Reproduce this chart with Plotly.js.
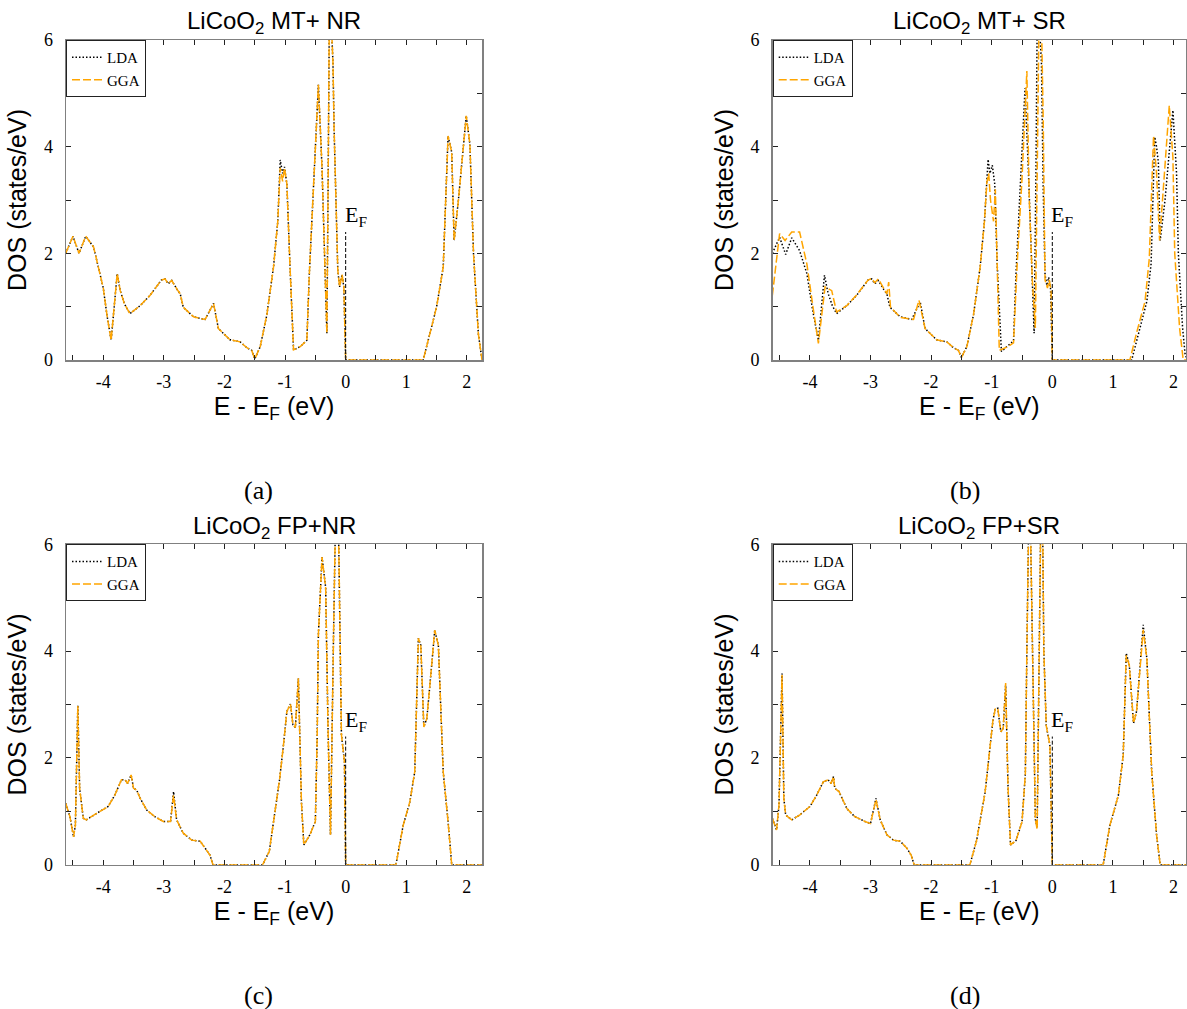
<!DOCTYPE html>
<html><head><meta charset="utf-8">
<script src="https://cdn.plot.ly/plotly-3.0.1.min.js"></script>
<style>html,body{margin:0;padding:0;background:#fff}</style>
</head><body><div id="chart" style="width:1187px;height:1009px"></div>
<script>
// ---------- tick labels & texts ----------
const xTickVals = [-4, -3, -2, -1, 0, 1, 2];
const xTickText = ['-4', '-3', '-2', '-1', '0', '1', '2'];
const yTickVals = [0, 2, 4, 6];
const yTickText = ['0', '2', '4', '6'];
const panelTitles = ['LiCoO<sub>2</sub> MT+ NR', 'LiCoO<sub>2</sub> MT+ SR', 'LiCoO<sub>2</sub> FP+NR', 'LiCoO<sub>2</sub> FP+SR'];
const captions = ['(a)', '(b)', '(c)', '(d)'];
const seriesNames = ['LDA', 'GGA'];
const efX = [0, 0];
const efY = [0, 2.4];

// ---------- panel (a) MT+NR ----------
const eA = [-4.62,-4.50,-4.40,-4.29,-4.16,-4.08,-4.00,-3.94,-3.87,-3.77,-3.72,-3.65,-3.56,-3.39,-3.23,-3.04,-2.98,-2.93,-2.87,-2.78,-2.73,-2.68,-2.51,-2.32,-2.18,-2.10,-1.91,-1.74,-1.63,-1.55,-1.50,-1.41,-1.30,-1.19,-1.12,-1.08,-1.04,-1.01,-0.97,-0.92,-0.86,-0.75,-0.64,-0.60,-0.53,-0.45,-0.39,-0.34,-0.31,-0.29,-0.27,-0.24,-0.21,-0.19,-0.13,-0.10,-0.06,-0.03,0.00,1.28,1.39,1.50,1.61,1.69,1.72,1.75,1.79,1.86,1.99,2.05,2.11,2.19,2.25];
const ldaA = [2.00,2.32,2.00,2.32,2.12,1.75,1.35,0.85,0.37,1.62,1.30,1.05,0.87,1.02,1.21,1.50,1.52,1.43,1.49,1.32,1.24,0.99,0.81,0.76,1.06,0.59,0.38,0.34,0.23,0.18,0.02,0.25,0.85,1.75,2.60,3.75,3.50,3.62,3.30,1.80,0.19,0.25,0.37,1.60,3.30,5.16,3.60,1.80,0.50,3.20,6.30,6.40,5.60,4.30,1.69,1.37,1.60,1.37,0.00,0.00,0.49,0.99,1.74,4.20,4.05,3.90,2.24,2.99,4.58,4.05,1.99,0.49,0.00];
const ggaA = [2.00,2.32,2.00,2.32,2.12,1.75,1.35,0.85,0.37,1.62,1.30,1.05,0.87,1.02,1.21,1.50,1.52,1.43,1.49,1.32,1.24,0.99,0.81,0.76,1.06,0.59,0.38,0.34,0.23,0.18,0.02,0.25,0.85,1.75,2.60,3.60,3.35,3.60,3.30,1.80,0.19,0.25,0.37,1.60,3.30,5.16,3.60,1.80,0.50,3.20,6.30,6.40,5.60,4.30,1.69,1.37,1.60,1.37,0.00,0.00,0.49,0.99,1.74,4.20,4.05,3.90,2.24,2.99,4.58,4.05,1.99,0.49,0.00];

// ---------- panel (b) MT+SR ----------
const eLdaB = [-4.62,-4.50,-4.40,-4.30,-4.17,-4.05,-3.95,-3.86,-3.76,-3.70,-3.63,-3.56,-3.39,-3.23,-3.04,-2.98,-2.93,-2.87,-2.78,-2.73,-2.68,-2.51,-2.32,-2.18,-2.10,-1.91,-1.74,-1.63,-1.55,-1.50,-1.41,-1.30,-1.19,-1.12,-1.06,-1.03,-0.99,-0.95,-0.91,-0.84,-0.75,-0.64,-0.60,-0.53,-0.45,-0.39,-0.34,-0.30,-0.27,-0.25,-0.22,-0.18,-0.15,-0.12,-0.09,-0.06,-0.03,0.00,1.31,1.42,1.56,1.63,1.69,1.72,1.75,1.78,1.86,1.99,2.05,2.08,2.15,2.19,2.21];
const ldaB = [2.00,2.30,1.98,2.29,2.05,1.62,0.90,0.37,1.59,1.25,1.02,0.87,1.02,1.21,1.50,1.52,1.43,1.49,1.32,1.24,0.99,0.81,0.76,1.09,0.59,0.38,0.34,0.23,0.18,0.05,0.25,0.85,1.75,2.60,3.76,3.50,3.65,3.30,1.80,0.16,0.25,0.36,1.60,3.20,5.10,3.40,1.60,0.50,3.50,6.30,6.40,5.60,3.20,1.60,1.40,1.55,1.35,0.00,0.00,0.50,1.10,1.80,4.18,4.00,3.70,2.24,3.00,4.68,3.50,2.00,0.60,0.12,0.05];
const eGgaB = [-4.62,-4.50,-4.41,-4.30,-4.17,-4.05,-3.95,-3.86,-3.75,-3.64,-3.56,-3.39,-3.23,-3.04,-2.98,-2.93,-2.87,-2.78,-2.73,-2.70,-2.67,-2.51,-2.29,-2.20,-2.10,-1.91,-1.74,-1.63,-1.55,-1.50,-1.41,-1.30,-1.19,-1.12,-1.08,-1.05,-1.02,-0.97,-0.94,-0.875,-0.75,-0.64,-0.58,-0.50,-0.42,-0.38,-0.33,-0.28,-0.25,-0.22,-0.18,-0.15,-0.12,-0.08,-0.05,-0.02,0.00,1.28,1.40,1.53,1.60,1.67,1.72,1.77,1.85,1.93,1.99,2.02,2.10,2.16,2.21];
const ggaB = [1.21,2.37,2.24,2.40,2.40,1.80,1.00,0.31,1.37,1.30,0.90,1.02,1.22,1.50,1.53,1.45,1.52,1.35,1.24,1.46,0.99,0.80,0.76,1.12,0.59,0.38,0.34,0.23,0.18,0.05,0.25,0.85,1.75,2.60,3.33,3.50,3.00,2.60,3.20,0.18,0.24,0.32,1.80,3.40,5.42,3.00,1.50,0.60,3.50,6.30,6.40,4.50,1.50,1.35,1.50,1.30,0.00,0.00,0.55,1.10,1.90,4.20,3.50,2.24,3.50,4.77,3.80,2.00,0.60,0.00,0.00];

// ---------- panel (c) FP+NR ----------
const eC = [-4.62,-4.55,-4.49,-4.46,-4.42,-4.39,-4.33,-4.28,-4.11,-3.92,-3.81,-3.70,-3.64,-3.60,-3.54,-3.50,-3.45,-3.39,-3.28,-3.15,-3.01,-2.89,-2.84,-2.79,-2.68,-2.54,-2.40,-2.29,-2.24,-2.19,-1.37,-1.26,-1.18,-1.09,-1.03,-0.97,-0.91,-0.87,-0.83,-0.78,-0.73,-0.69,-0.59,-0.50,-0.47,-0.45,-0.39,-0.33,-0.29,-0.25,-0.20,-0.17,-0.12,-0.07,-0.02,0.00,0.83,0.95,1.06,1.14,1.20,1.24,1.29,1.34,1.42,1.47,1.53,1.61,1.69,1.75,2.25];
const ldaC = [1.15,0.90,0.52,0.74,2.99,1.43,0.87,0.84,0.96,1.09,1.30,1.59,1.59,1.52,1.68,1.43,1.40,1.24,1.02,0.90,0.81,0.81,1.37,0.84,0.59,0.46,0.44,0.27,0.18,0.00,0.00,0.25,0.90,1.60,2.20,2.87,3.01,2.62,2.57,3.49,1.18,0.37,0.56,0.81,2.40,4.31,5.76,5.19,2.50,0.56,4.30,6.30,6.50,2.44,1.93,0.00,0.00,0.74,1.18,1.74,4.24,4.11,2.58,2.74,3.74,4.39,4.11,1.74,0.81,0.00,0.00];
const ggaC = [1.15,0.90,0.52,0.74,2.97,1.43,0.87,0.84,0.96,1.09,1.30,1.59,1.59,1.52,1.68,1.43,1.40,1.24,1.02,0.90,0.81,0.81,1.30,0.84,0.59,0.46,0.44,0.27,0.18,0.00,0.00,0.25,0.90,1.60,2.20,2.87,3.01,2.62,2.57,3.49,1.18,0.37,0.56,0.81,2.40,4.31,5.76,5.19,2.50,0.56,4.30,6.30,6.50,2.44,1.93,0.00,0.00,0.74,1.18,1.74,4.24,4.11,2.58,2.74,3.74,4.39,4.11,1.74,0.81,0.00,0.00];

// ---------- panel (d) FP+SR ----------
const eD = [-4.62,-4.55,-4.51,-4.46,-4.43,-4.40,-4.30,-4.17,-4.00,-3.89,-3.78,-3.70,-3.65,-3.61,-3.59,-3.52,-3.39,-3.26,-3.09,-3.00,-2.91,-2.84,-2.73,-2.62,-2.51,-2.40,-2.33,-2.28,-1.36,-1.25,-1.11,-1.04,-0.98,-0.94,-0.90,-0.85,-0.81,-0.77,-0.73,-0.69,-0.60,-0.50,-0.445,-0.42,-0.39,-0.36,-0.31,-0.28,-0.25,-0.22,-0.19,-0.16,-0.14,-0.10,-0.04,0.00,0.84,0.95,1.09,1.17,1.22,1.27,1.34,1.39,1.45,1.50,1.56,1.64,1.72,1.78,2.21];
const ldaD = [0.87,0.65,1.12,3.58,1.24,0.93,0.84,0.93,1.09,1.30,1.55,1.59,1.52,1.65,1.43,1.37,1.05,0.90,0.81,0.77,1.24,0.84,0.56,0.46,0.44,0.31,0.18,0.00,0.00,0.45,1.35,2.05,2.70,2.92,2.93,2.49,2.55,3.36,1.43,0.37,0.45,0.80,1.70,4.00,6.40,6.30,2.99,0.85,0.70,3.50,6.50,6.40,4.00,2.60,2.24,0.00,0.00,0.74,1.30,2.05,3.96,3.74,2.65,2.87,3.80,4.49,3.86,1.74,0.56,0.00,0.00];
const ggaD = [0.87,0.65,1.12,3.55,1.24,0.93,0.84,0.93,1.09,1.30,1.55,1.59,1.52,1.65,1.43,1.37,1.05,0.90,0.81,0.77,1.22,0.84,0.56,0.46,0.44,0.31,0.18,0.00,0.00,0.45,1.35,2.05,2.70,2.92,2.93,2.49,2.55,3.40,1.43,0.37,0.45,0.80,1.70,4.00,6.40,6.30,2.99,0.85,0.66,3.50,6.50,6.40,4.00,2.60,2.24,0.00,0.00,0.74,1.30,2.05,3.92,3.74,2.65,2.87,3.80,4.40,3.86,1.74,0.56,0.00,0.00];

// ---------- build ----------
const panels = [
  {lx: eA, ly: ldaA, gx: eA, gy: ggaA},
  {lx: eLdaB, ly: ldaB, gx: eGgaB, gy: ggaB},
  {lx: eC, ly: ldaC, gx: eC, gy: ggaC},
  {lx: eD, ly: ldaD, gx: eD, gy: ggaD}
];
const W = 1187, H = 1009;
const xDomLeft = [66 / W, 482 / W];
const xDomRight = [772.7 / W, 1186 / W];
const yDomTop = [1 - 360 / H, 1 - 40 / H];
const yDomBot = [1 - 864.7 / H, 1 - 544.3 / H];
const xRanges = [[-4.615, 2.25], [-4.614, 2.206], [-4.615, 2.25], [-4.614, 2.206]];
const xDoms = [xDomLeft, xDomRight, xDomLeft, xDomRight];
const yDoms = [yDomTop, yDomTop, yDomBot, yDomBot];

const serif = 'Liberation Serif, Times New Roman, serif';
const sans = 'Liberation Sans, Arial, sans-serif';

const traces = [];
const layout = {
  width: W, height: H,
  margin: {l: 0, r: 0, t: 0, b: 0},
  paper_bgcolor: '#fff', plot_bgcolor: '#fff',
  annotations: [], showlegend: true
};

panels.forEach((p, i) => {
  const n = i === 0 ? '' : String(i + 1);
  const xa = 'x' + n, ya = 'y' + n;
  const lg = 'legend' + n;
  traces.push({
    x: p.lx, y: p.ly, xaxis: xa, yaxis: ya, type: 'scatter', mode: 'lines',
    name: seriesNames[0], legend: lg,
    line: {color: '#000', width: 1.5, dash: '1.5px,2px'}
  });
  traces.push({
    x: p.gx, y: p.gy, xaxis: xa, yaxis: ya, type: 'scatter', mode: 'lines',
    name: seriesNames[1], legend: lg,
    line: {color: '#FFA500', width: 1.5, dash: '8px,3px'}
  });
  traces.push({
    x: efX, y: efY, xaxis: xa, yaxis: ya, type: 'scatter', mode: 'lines',
    showlegend: false, hoverinfo: 'skip',
    line: {color: '#000', width: 1, dash: '4px,2px'}
  });

  layout['xaxis' + n] = {
    domain: xDoms[i], range: xRanges[i], anchor: ya,
    tickmode: 'array', tickvals: xTickVals, ticktext: xTickText,
    ticks: 'inside', ticklen: 5, tickwidth: 1, tickcolor: '#222',
    minor: {tickmode: 'linear', tick0: 0, dtick: 0.5, ticks: 'inside', ticklen: 5, tickwidth: 1, tickcolor: '#222'},
    showline: true, linecolor: '#808080', linewidth: 1.5, mirror: 'ticks',
    showgrid: false, zeroline: false,
    tickfont: {family: serif, size: 18, color: '#000'},
    ticklabelstandoff: 5,
    title: {text: 'E - E<sub>F</sub> (eV)', font: {family: sans, size: 25, color: '#000'}, standoff: 4}
  };
  layout['yaxis' + n] = {
    domain: yDoms[i], range: [0, 6], anchor: xa,
    tickmode: 'array', tickvals: yTickVals, ticktext: yTickText,
    ticks: 'inside', ticklen: 5, tickwidth: 1, tickcolor: '#222',
    minor: {tickmode: 'linear', tick0: 0, dtick: 1, ticks: 'inside', ticklen: 5, tickwidth: 1, tickcolor: '#222'},
    showline: true, linecolor: '#808080', linewidth: 1.5, mirror: 'ticks',
    showgrid: false, zeroline: false,
    tickfont: {family: serif, size: 18, color: '#000'},
    ticklabelstandoff: 8,
    title: {text: 'DOS (states/eV)', font: {family: sans, size: 25, color: '#000'}, standoff: 10}
  };
  layout[lg] = {
    x: xDoms[i][0], y: yDoms[i][1], xanchor: 'left', yanchor: 'top',
    xref: 'paper', yref: 'paper',
    bgcolor: '#fff', bordercolor: '#222', borderwidth: 1,
    font: {family: serif, size: 15, color: '#000'},
    tracegroupgap: 0, itemwidth: 30
  };
  // panel title
  layout.annotations.push({
    xref: 'paper', yref: 'paper',
    x: (xDoms[i][0] + xDoms[i][1]) / 2, y: yDoms[i][1] + 17 / H,
    xanchor: 'center', yanchor: 'middle', showarrow: false,
    text: panelTitles[i], font: {family: sans, size: 24, color: '#000'}
  });
  // E_F label
  layout.annotations.push({
    xref: xa, yref: ya, x: 0, y: 2.7, xanchor: 'left', yanchor: 'middle',
    xshift: -3, showarrow: false,
    text: 'E<sub>F</sub>', font: {family: serif, size: 22, color: '#000'}
  });
  // caption
  layout.annotations.push({
    xref: 'paper', yref: 'paper',
    x: (i % 2 === 0 ? 258 : 965) / W, y: 1 - (i < 2 ? 490 : 995) / H,
    xanchor: 'center', yanchor: 'middle', showarrow: false,
    text: captions[i], font: {family: serif, size: 26, color: '#000'}
  });
});

Plotly.newPlot('chart', traces, layout, {displayModeBar: false, staticPlot: true});
</script></body></html>
